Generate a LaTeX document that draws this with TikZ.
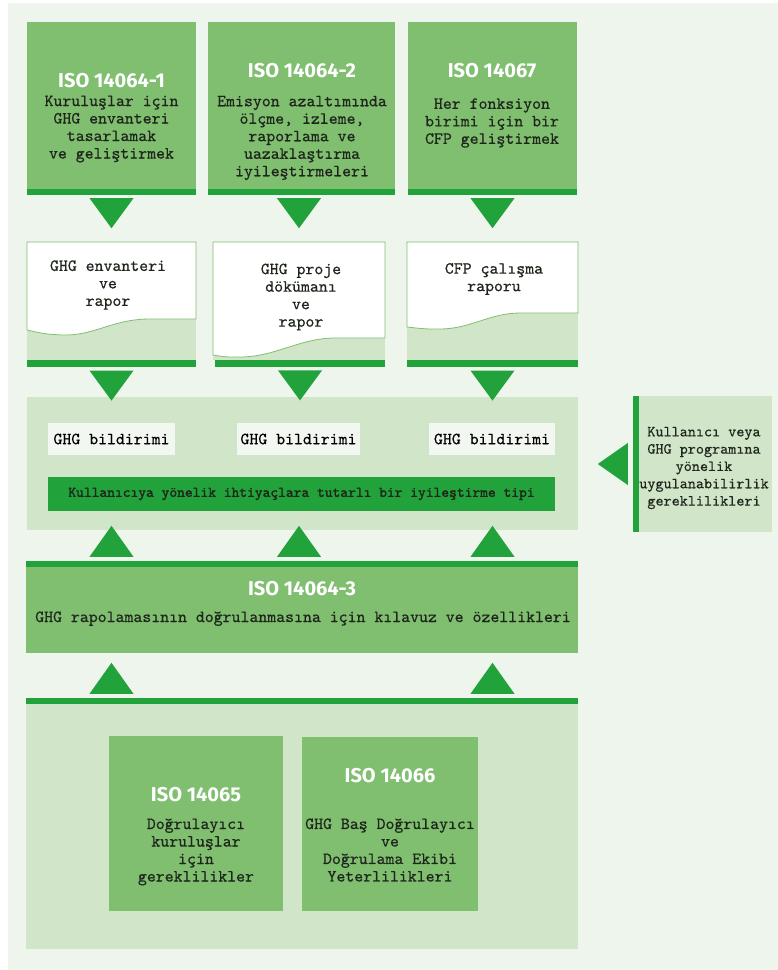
\documentclass[tikz,border=0pt]{standalone}
\usepackage{fontspec}
\setmainfont{lmmono10-regular}[Extension=.otf, FakeBold=0.6]
\newfontfamily\heavymono{lmmono10-regular}[Extension=.otf, FakeBold=1.6]
\newfontfamily\isofont{Fira Sans}
\definecolor{pagebg}{HTML}{EEF5EC}
\definecolor{boxgreen}{HTML}{80BE70}
\definecolor{darkgreen}{HTML}{22A23A}
\definecolor{palegreen}{HTML}{D1E5C8}
\definecolor{notewhite}{HTML}{F3F7F1}
\definecolor{ink}{HTML}{1E261C}
\begin{document}
\begin{tikzpicture}[x=1pt, y=-1pt, font=\fontsize{17}{17.5}\selectfont]
  \tikzset{
    isobox/.style={fill=boxgreen, inner sep=0pt},
    band/.style={fill=darkgreen, inner sep=0pt, minimum height=6pt},
    sheet/.style={fill=palegreen, inner sep=0pt},
    paper/.style={fill=white, draw=boxgreen, line width=0.8pt},
    note/.style={fill=notewhite, inner sep=0pt, minimum height=32pt},
    heading/.style={text=white, font=\isofont\bfseries\fontsize{20}{24}\selectfont, anchor=base, inner sep=0pt},
    body/.style={text=ink, align=center, inner sep=0pt},
    tip/.style={fill=darkgreen}
  }
  \useasboundingbox (0,0) rectangle (778,970);
  \fill[pagebg] (8,3) rectangle (778,970);

  % standards on top
  \node[isobox, minimum width=169pt, minimum height=173pt] (iso1) at (111.5,108.5) {};
  \node[isobox, minimum width=187pt, minimum height=173pt] (iso2) at (301.5,108.5) {};
  \node[isobox, minimum width=169pt, minimum height=173pt] (iso3) at (492.5,108.5) {};
  \node[band, minimum width=169pt, anchor=south] (iso1band) at (iso1.south) {};
  \node[band, minimum width=187pt, anchor=south] (iso2band) at (iso2.south) {};
  \node[band, minimum width=169pt, anchor=south] (iso3band) at (iso3.south) {};
  \node[heading] (iso1title) at (111.5,87) {ISO 14064-1};
  \node[heading] (iso2title) at (302,77) {ISO 14064-2};
  \node[heading] (iso3title) at (492,77) {ISO 14067};
  \node[body] (iso1text) at (111.5,129) {Kuruluşlar için\\GHG envanteri\\tasarlamak\\ve geliştirmek};
  \node[body] (iso2text) at (302,138) {Emisyon azaltımında\\ölçme, izleme,\\raporlama ve\\uazaklaştırma\\iyileştirmeleri};
  \node[body] (iso3text) at (492,123) {Her fonksiyon\\birimi için bir\\CFP geliştirmek};

  % documents
  \node[sheet, minimum width=169pt, minimum height=118pt] (doc1) at (111.5,301) {};
  \node[sheet, minimum width=172pt, minimum height=118pt] (doc2) at (299,301) {};
  \node[sheet, minimum width=171pt, minimum height=118pt] (doc3) at (492.5,301) {};
  \node[band, minimum width=169pt, minimum height=7pt, anchor=north] (doc1band) at (doc1.south) {};
  \node[band, minimum width=170pt, minimum height=7pt, anchor=north] (doc2band) at (300,360) {};
  \node[band, minimum width=171pt, minimum height=7pt, anchor=north] (doc3band) at (doc3.south) {};
  \filldraw[paper] (27,242) -- (196,242) -- (196,319) -- (150,319)
    .. controls (112,319) and (95,336) .. (62,335) .. controls (45,334) .. (27,330) -- cycle;
  \filldraw[paper] (213,242) -- (385,242) -- (385,338) -- (335,338)
    .. controls (300,338) and (275,357) .. (240,357) .. controls (225,357) .. (213,355) -- cycle;
  \filldraw[paper] (407,242) -- (578,242) -- (578,313) -- (520,313)
    .. controls (490,313) and (470,329) .. (440,329) .. controls (425,329) .. (407,327) -- cycle;
  \node[body] (doc1text) at (108,285) {GHG envanteri\\ve\\rapor};
  \node[body] (doc2text) at (301,297) {GHG proje\\dökümanı\\ve\\rapor};
  \node[body] (doc3text) at (494,279) {CFP çalışma\\raporu};

  \fill[tip, shift={(iso1band.south)}] (-22,3) -- (22,3) -- (0,33) -- cycle;
  \fill[tip, shift={(doc2 |- iso2band.south)}] (-22,3) -- (22,3) -- (0,33) -- cycle;
  \fill[tip, shift={(iso3band.south)}] (-22,3) -- (22,3) -- (0,33) -- cycle;

  % declarations
  \node[sheet, minimum width=551pt, minimum height=133pt] (sumpanel) at (302.5,463.5) {};
  \node[note, minimum width=127pt] (ghg1) at (111.5,439) {GHG bildirimi};
  \node[note, minimum width=123pt] (ghg2) at (298.5,439) {GHG bildirimi};
  \node[note, minimum width=126pt] (ghg3) at (492,439) {GHG bildirimi};
  \node[fill=darkgreen, text=ink, inner sep=0pt, minimum width=507pt, minimum height=34pt,
        font=\heavymono\fontsize{14.8}{16}\selectfont] (needbar) at (301.5,494)
        {Kullanıcıya yönelik ihtiyaçlara tutarlı bir iyileştirme tipi};

  \fill[tip, shift={(doc1band.south)}] (-22,3) -- (22,3) -- (0,33) -- cycle;
  \fill[tip, shift={(doc2band.south)}] (-22,3) -- (22,3) -- (0,33) -- cycle;
  \fill[tip, shift={(doc3band.south)}] (-22,3) -- (22,3) -- (0,33) -- cycle;

  % programme requirements
  \node[sheet, minimum width=139pt, minimum height=136pt] (userreq) at (702.5,464) {};
  \node[band, minimum width=6pt, minimum height=136pt, anchor=west] (userband) at (userreq.west) {};
  \node[body, font=\fontsize{15.4}{17.3}\selectfont] (userreqtext) at (704,468)
    {Kullanıcı veya\\GHG programına\\yönelik\\uygulanabilirlik\\gereklilikleri};
  \fill[tip, shift={(userband.west)}] (-5,-21) -- (-5,21) -- (-35,0) -- cycle;

  % verification
  \node[band, minimum width=552pt] (iso4band) at (302,564) {};
  \node[isobox, minimum width=552pt, minimum height=86pt, anchor=north] (iso4) at (iso4band.south) {};
  \node[heading] (iso4title) at (302,595) {ISO 14064-3};
  \node[body, anchor=base] (iso4text) at (303,622) {GHG rapolamasının doğrulanmasına için kılavuz ve özellikleri};

  \fill[tip, shift={(doc1 |- iso4band.north)}] (-22,-4) -- (22,-4) -- (0,-35) -- cycle;
  \fill[tip, shift={(doc2 |- iso4band.north)}] (-22,-4) -- (22,-4) -- (0,-35) -- cycle;
  \fill[tip, shift={(doc3 |- iso4band.north)}] (-22,-4) -- (22,-4) -- (0,-35) -- cycle;

  \node[band, minimum width=552pt] (verband) at (302,701) {};
  \node[sheet, minimum width=552pt, minimum height=245pt, anchor=north] (verpanel) at (verband.south) {};
  \node[isobox, minimum width=174pt, minimum height=175pt] (iso5) at (196,823.5) {};
  \node[isobox, minimum width=176pt, minimum height=174pt] (iso6) at (390,824) {};
  \node[heading] (iso5title) at (196,801) {ISO 14065};
  \node[heading] (iso6title) at (390,782) {ISO 14066};
  \node[body] (iso5text) at (196,852) {Doğrulayıcı\\kuruluşlar\\için\\gereklilikler};
  \node[body] (iso6text) at (390,850) {GHG Baş Doğrulayıcı\\ve\\Doğrulama Ekibi\\Yeterlilikleri};

  \fill[tip, shift={(doc1 |- verband.north)}] (-22,-4) -- (22,-4) -- (0,-35) -- cycle;
  \fill[tip, shift={(doc3 |- verband.north)}] (-22,-4) -- (22,-4) -- (0,-35) -- cycle;
\end{tikzpicture}
\end{document}
